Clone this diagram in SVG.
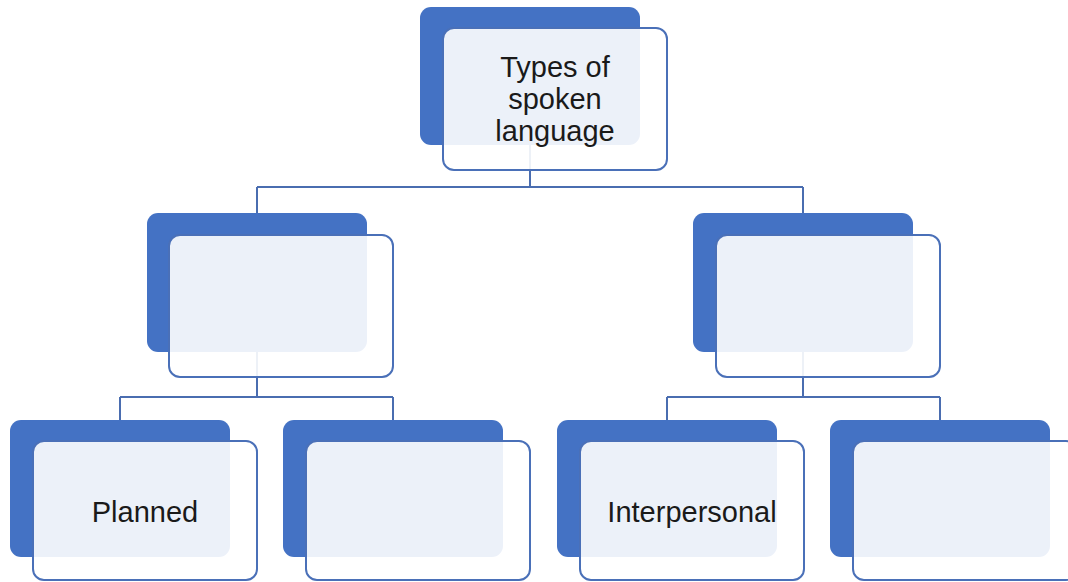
<svg xmlns="http://www.w3.org/2000/svg" width="1068" height="582" viewBox="0 0 1068 582">
<style>
.back{fill:#4472C4;}
.front{fill:#ffffff;fill-opacity:0.9;stroke:#4A70B8;stroke-width:2;}
.conn{fill:none;stroke:#4A6DB0;stroke-width:2;}
.lbl{font-family:"Liberation Sans",Arial,sans-serif;font-size:29px;fill:#1a1a1a;text-anchor:middle;}
</style>
<rect x="0" y="0" width="1068" height="582" fill="#ffffff"/>
<g id="connectors">
<path class="conn" d="M530 145 V187 M257 187 H803 M257 187 V213 M803 187 V213"/>
<path class="conn" d="M257 352 V397 M120 397 H393 M120 397 V420 M393 397 V420"/>
<path class="conn" d="M803 352 V397 M667 397 H940 M667 397 V420 M940 397 V420"/>
</g>
<g id="node-top">
<rect class="back" x="420" y="7" width="220" height="138" rx="11"/>
<rect class="front" x="443" y="28" width="224" height="142" rx="11"/>
<text class="lbl" x="555" y="77">Types of</text>
<text class="lbl" x="555" y="109">spoken</text>
<text class="lbl" x="555" y="141">language</text>
</g>
<g id="node-mid-left">
<rect class="back" x="147" y="213" width="220" height="139" rx="11"/>
<rect class="front" x="169" y="235" width="224" height="142" rx="11"/>
</g>
<g id="node-mid-right">
<rect class="back" x="693" y="213" width="220" height="139" rx="11"/>
<rect class="front" x="716" y="235" width="224" height="142" rx="11"/>
</g>
<g id="node-planned">
<rect class="back" x="10" y="420" width="220" height="137" rx="11"/>
<rect class="front" x="33" y="441" width="224" height="139" rx="11"/>
<text class="lbl" x="145" y="522">Planned</text>
</g>
<g id="node-bottom-2">
<rect class="back" x="283" y="420" width="220" height="137" rx="11"/>
<rect class="front" x="306" y="441" width="224" height="139" rx="11"/>
</g>
<g id="node-interpersonal">
<rect class="back" x="557" y="420" width="220" height="137" rx="11"/>
<rect class="front" x="580" y="441" width="224" height="139" rx="11"/>
<text class="lbl" x="692" y="522">Interpersonal</text>
</g>
<g id="node-bottom-4">
<rect class="back" x="830" y="420" width="220" height="137" rx="11"/>
<rect class="front" x="853" y="441" width="224" height="139" rx="11"/>
</g>
</svg>
